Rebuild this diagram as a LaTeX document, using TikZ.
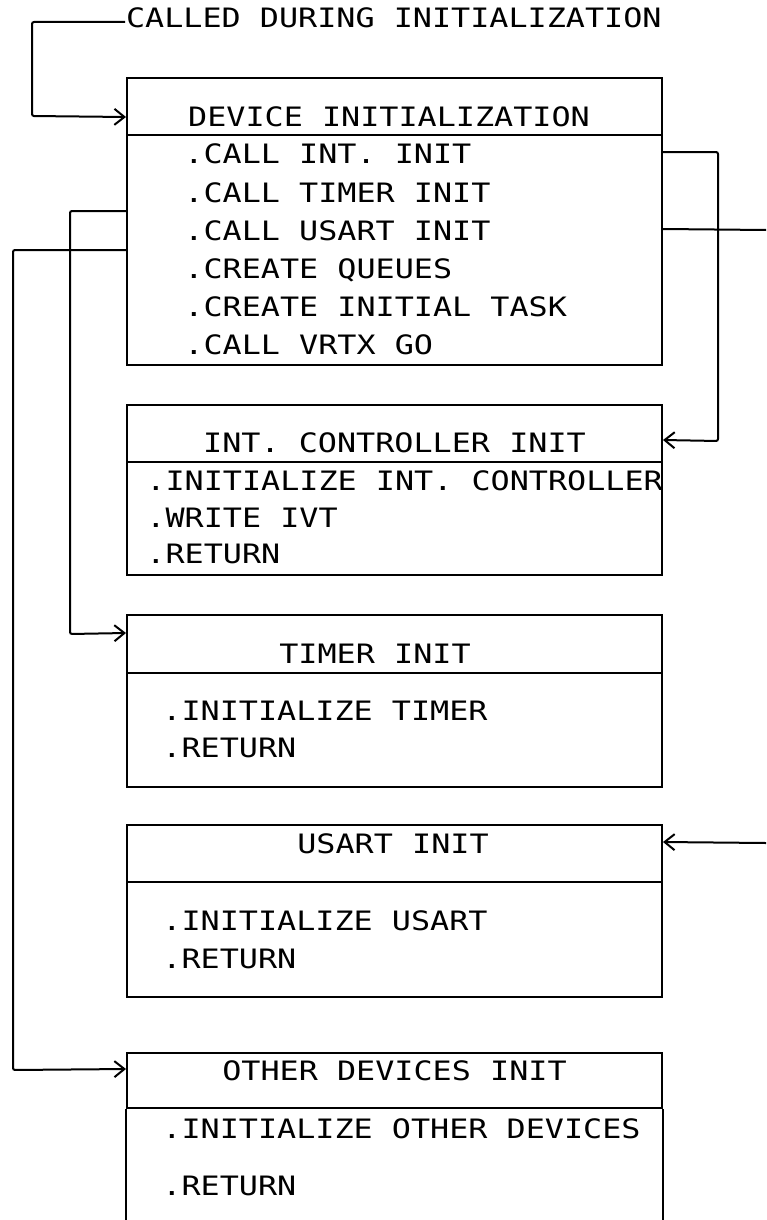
\documentclass[tikz,border=0pt]{standalone}
\usepackage{fontspec}
\newfontfamily\plotfont{DejaVu Sans Mono}[FakeStretch=1.19]
\usetikzlibrary{arrows.meta,calc}
\begin{document}
\begin{tikzpicture}[x=1pt,y=-1pt,line width=2pt,
  hdr/.style={draw,rectangle,inner sep=0pt,minimum width=535pt},
  bdy/.style={draw,rectangle,inner sep=0pt,minimum width=535pt},
  lbl/.style={inner sep=0pt,font=\plotfont\fontsize{26.7}{30}\selectfont},
  ttl/.style={lbl,anchor=base},
  line/.style={lbl,anchor=base west},
  conn/.style={rounded corners=2pt,-{Straight Barb[length=10pt,width=16pt]}},
  wire/.style={rounded corners=2pt}]
\fill[white] (0,0) rectangle (766,1220);
\useasboundingbox (0,0) rectangle (766,1220);

% top label
\node[line] (top) at (125,28) {CALLED DURING INITIALIZATION};

% box 1
\node[hdr,minimum height=57pt] (h1) at (394.5,106.5) {};
\node[bdy,minimum height=230pt] (b1) at (394.5,250) {};
\node[ttl] (t1) at (389,127) {DEVICE INITIALIZATION};
\node[line] (l11) at (183.4,164) {.CALL INT. INIT};
\node[line] (l12) at (183.4,202) {.CALL TIMER INIT};
\node[line] (l13) at (183.4,240) {.CALL USART INIT};
\node[line] (l14) at (183.4,278) {.CREATE QUEUES};
\node[line] (l15) at (183.4,316) {.CREATE INITIAL TASK};
\node[line] (l16) at (183.4,354) {.CALL VRTX GO};

% box 2
\node[hdr,minimum height=57pt] (h2) at (394.5,433.5) {};
\node[bdy,minimum height=113pt] (b2) at (394.5,518.5) {};
\node[ttl] (t2) at (394.5,452) {INT. CONTROLLER INIT};
\node[line] (l21) at (145.4,490) {.INITIALIZE INT. CONTROLLER};
\node[line] (l22) at (145.4,527) {.WRITE IVT};
\node[line] (l23) at (145.4,563) {.RETURN};

% box 3
\node[hdr,minimum height=58pt] (h3) at (394.5,644) {};
\node[bdy,minimum height=114pt] (b3) at (394.5,730) {};
\node[ttl] (t3) at (375,663) {TIMER INIT};
\node[line] (l31) at (161.4,720) {.INITIALIZE TIMER};
\node[line] (l32) at (161.4,757) {.RETURN};

% box 4
\node[hdr,minimum height=57pt] (h4) at (394.5,853.5) {};
\node[bdy,minimum height=115pt] (b4) at (394.5,939.5) {};
\node[ttl] (t4) at (393,853) {USART INIT};
\node[line] (l41) at (161.4,930) {.INITIALIZE USART};
\node[line] (l42) at (161.4,968) {.RETURN};

% box 5 (open at the bottom)
\node[hdr,minimum height=55pt] (h5) at (394.5,1080.5) {};
\draw (h5.south west) -- ($(h5.south west)+(0,130)$);
\draw (h5.south east) -- ($(h5.south east)+(0,130)$);
\node[ttl] (t5) at (394.5,1080) {OTHER DEVICES INIT};
\node[line] (l51) at (161.4,1138) {.INITIALIZE OTHER DEVICES};
\node[line] (l52) at (161.4,1195) {.RETURN};

% bend points and free ends
\coordinate (k1) at (32,116);
\coordinate (k2) at (718,441);
\coordinate (k3) at (766,230);
\coordinate (k4) at (766,843);
\coordinate (k5) at (70,634);
\coordinate (k6) at (13,1070);

% connectors
\draw[conn] ($(top.base west)+(0,-6)$) -| (k1) -- ($(h1.south west)+(0,-19)$);
\draw[conn] ($(b1.north east)+(0,18)$) -| (k2) -- ($(h2.north east)+(0,36)$);
\draw[wire] ($(b1.north east)+(0,95)$) -- (k3);
\draw[conn] (k4) -- ($(h4.north east)+(0,18)$);
\draw[conn] ($(b1.north west)+(0,77)$) -| (k5) -- ($(h3.north west)+(0,19)$);
\draw[conn] ($(b1.north west)+(0,116)$) -| (k6) -- ($(h5.north west)+(0,17)$);
\end{tikzpicture}
\end{document}
